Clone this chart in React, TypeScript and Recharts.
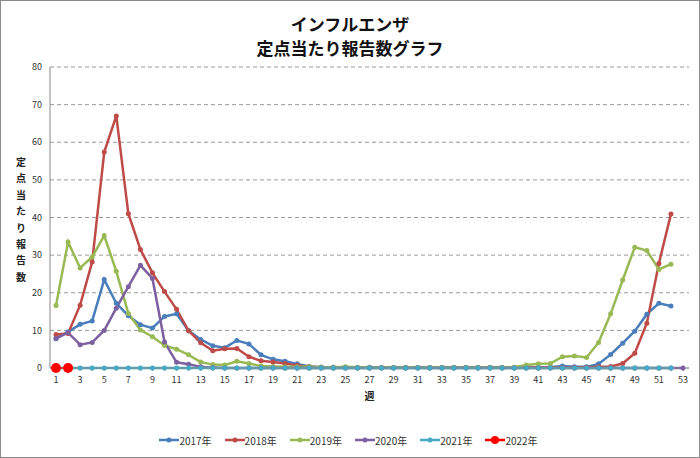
import React from 'react';
import { LineChart, Line, XAxis, YAxis, CartesianGrid, Legend, Label } from 'recharts';

const weeks = [
  1, 2, 3, 4, 5, 6, 7, 8, 9, 10, 11, 12, 13, 14, 15, 16, 17, 18, 19, 20,
  21, 22, 23, 24, 25, 26, 27, 28, 29, 30, 31, 32, 33, 34, 35, 36, 37, 38, 39, 40,
  41, 42, 43, 44, 45, 46, 47, 48, 49, 50, 51, 52, 53,
];

const y2017 = [
  7.8, 9.6, 11.6, 12.5, 23.5, 17.2, 13.9, 11.5, 10.6, 13.7, 14.4, 9.9, 7.6, 5.9, 5.4, 7.3, 6.4, 3.5, 2.3, 1.8,
  1.1, 0.4, 0.2, 0.2, 0.1, 0.1, 0.2, 0.1, 0.1, 0.1, 0.1, 0.1, 0.1, 0.1, 0.1, 0.1, 0.1, 0.1, 0.1, 0.1,
  0.2, 0.2, 0.5, 0.3, 0.3, 1.1, 3.6, 6.6, 9.8, 14.3, 17.2, 16.5, null,
];
const y2018 = [
  8.9, 9.2, 16.7, 28.2, 57.4, 67.0, 41.0, 31.5, 25.3, 20.3, 15.6, 9.9, 6.7, 4.6, 5.1, 5.2, 3.0, 1.9, 1.6, 1.2,
  0.7, 0.3, 0.2, 0.1, 0.1, 0.1, 0.1, 0.1, 0.1, 0.1, 0.1, 0.1, 0.1, 0.1, 0.1, 0.1, 0.1, 0.1, 0.1, 0.1,
  0.1, 0.1, 0.1, 0.1, 0.2, 0.3, 0.4, 1.2, 3.9, 11.9, 27.8, 40.9, null,
];
const y2019 = [
  16.6, 33.5, 26.6, 29.5, 35.2, 25.7, 14.5, 10.1, 8.3, 6.0, 5.0, 3.5, 1.6, 0.9, 0.8, 1.8, 1.2, 0.5, 0.4, 0.3,
  0.3, 0.3, 0.2, 0.2, 0.3, 0.2, 0.1, 0.1, 0.1, 0.1, 0.1, 0.1, 0.1, 0.1, 0.1, 0.1, 0.1, 0.1, 0.2, 0.8,
  1.1, 1.2, 3.0, 3.2, 2.8, 6.8, 14.4, 23.4, 32.1, 31.2, 26.2, 27.6, null,
];
const y2020 = [
  7.9, 9.4, 6.2, 6.8, 10.0, 15.9, 21.6, 27.3, 23.8, 6.9, 1.5, 1.0, 0.3, 0.1, 0, 0, 0, 0, 0, 0,
  0, 0, 0, 0, 0, 0, 0, 0, 0, 0, 0, 0, 0, 0, 0, 0, 0, 0, 0, 0,
  0, 0, 0, 0, 0, 0, 0, 0, 0, 0, 0, 0, 0,
];
const y2021 = [
  0, 0, 0, 0, 0, 0, 0, 0, 0, 0, 0, 0, 0, 0, 0, 0, 0, 0, 0, 0,
  0, 0, 0, 0, 0, 0, 0, 0, 0, 0, 0, 0, 0, 0, 0, 0, 0, 0, 0, 0,
  0, 0, 0, 0, 0, 0, 0, 0, 0, 0, 0, 0, null,
];
const y2022 = [0, 0];

const yTicks = [0, 10, 20, 30, 40, 50, 60, 70, 80];

const SERIES = [
  { key: 'y2017', name: '2017年', color: '#4a7ebb', r: 2.5 },
  { key: 'y2018', name: '2018年', color: '#be4b48', r: 2.5 },
  { key: 'y2019', name: '2019年', color: '#98b954', r: 2.5 },
  { key: 'y2020', name: '2020年', color: '#7d60a0', r: 2.5 },
  { key: 'y2021', name: '2021年', color: '#46aac5', r: 2.5 },
  { key: 'y2022', name: '2022年', color: '#ff0000', r: 5 },
];

const data = weeks.map((w, i) => ({
  week: w,
  y2017: y2017[i],
  y2018: y2018[i],
  y2019: y2019[i],
  y2020: y2020[i],
  y2021: y2021[i],
  y2022: i < y2022.length ? y2022[i] : null,
}));

const FONT = '"Noto Sans CJK JP", "Noto Sans", sans-serif';
const Y_LABEL = '定点当たり報告数';

const renderYLabel = () => (
  <text fontSize={10} fontWeight="bold" textAnchor="middle" fill="#222" fontFamily={FONT}>
    {Y_LABEL.split('').map((c, i) => (
      <tspan key={i} x={21} y={166 + i * 16.4}>
        {c}
      </tspan>
    ))}
  </text>
);

const renderLegend = () => (
  <div
    style={{
      height: 20,
      display: 'flex',
      justifyContent: 'center',
      alignItems: 'center',
      gap: 13,
      fontFamily: FONT,
      fontSize: 10,
      color: '#333',
    }}
  >
    {SERIES.map((s) => (
      <div key={s.key} style={{ display: 'flex', alignItems: 'center' }}>
        <svg width={20} height={10}>
          <line x1={0} y1={5} x2={20} y2={5} stroke={s.color} strokeWidth={2.5} />
          <circle cx={10} cy={5} r={s.r === 5 ? 4 : 2.5} fill={s.color} />
        </svg>
        <span>{s.name}</span>
      </div>
    ))}
  </div>
);

export default function App() {
  return (
    <div style={{ position: 'absolute', left: 0, top: 0, width: 700, height: 458, background: '#fff' }}>
      <LineChart
        width={700}
        height={458}
        data={data}
        margin={{ top: 67, right: 11, bottom: 8, left: 8 }}
        style={{ fontFamily: FONT }}
      >
        <CartesianGrid vertical={false} stroke="#9a9a9a" strokeDasharray="4 3" />
        <XAxis
          dataKey="week"
          type="category"
          interval={0}
          height={62}
          padding={{ left: 6, right: 6 }}
          tickFormatter={(v) => (v % 2 === 1 ? String(v) : '')}
          tick={{ fontSize: 9, fill: '#333' }}
          tickSize={3}
          tickMargin={6}
          axisLine={{ stroke: '#888' }}
          tickLine={{ stroke: '#888' }}
        >
          <Label value="週" position="insideTop" offset={25} fontSize={10} fontWeight="bold" fill="#222" />
        </XAxis>
        <YAxis
          domain={[0, 80]}
          ticks={yTicks}
          width={42}
          tickLine={false}
          axisLine={{ stroke: '#888' }}
          tick={{ fontSize: 9, fill: '#333' }}
          label={<Label content={renderYLabel} />}
        />
        <Legend verticalAlign="bottom" content={renderLegend} />
        {SERIES.map((s) => (
          <Line
            key={s.key}
            type="linear"
            dataKey={s.key}
            name={s.name}
            stroke={s.color}
            strokeWidth={s.r === 5 ? 2 : 2.5}
            dot={{ r: s.r, fill: s.color, stroke: s.color, strokeWidth: 0 }}
            activeDot={false}
            isAnimationActive={false}
          />
        ))}
      </LineChart>
      <div
        style={{
          position: 'absolute',
          left: 0,
          top: 12,
          width: 700,
          textAlign: 'center',
          fontFamily: FONT,
          fontWeight: 'bold',
          fontSize: 17,
          lineHeight: '24px',
          color: '#111',
        }}
      >
        インフルエンザ
        <br />
        定点当たり報告数グラフ
      </div>
      <div
        style={{
          position: 'absolute',
          inset: 0,
          border: '1px solid #8a8a8a',
          boxSizing: 'border-box',
          pointerEvents: 'none',
        }}
      />
    </div>
  );
}
